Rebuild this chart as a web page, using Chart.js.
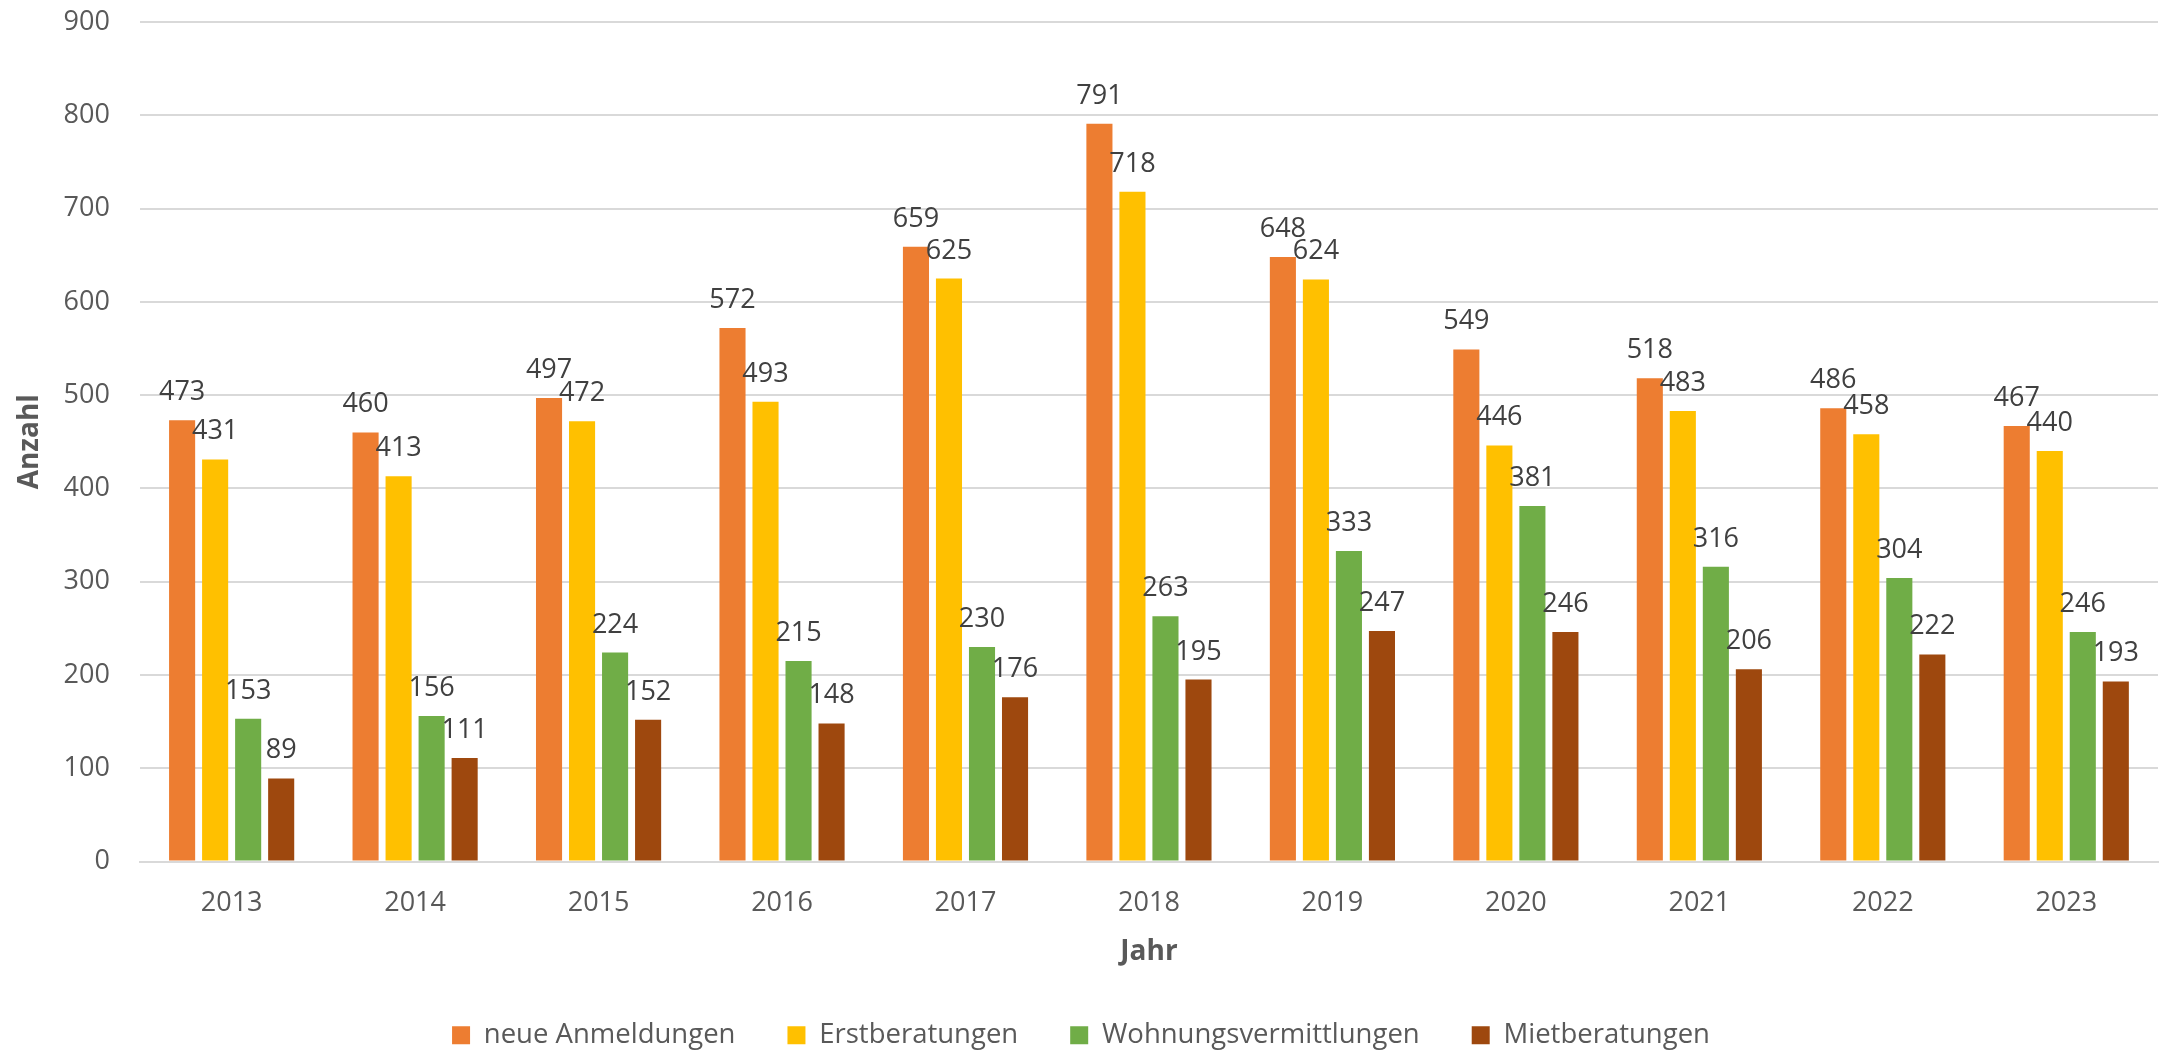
<!DOCTYPE html>
<html>
<head>
<meta charset="utf-8">
<script src="https://cdn.jsdelivr.net/npm/chart.js@4/dist/chart.umd.min.js"></script>
<style>
  html, body { margin: 0; padding: 0; background: #fff; }
  #wrap { width: 2165px; height: 1050px; }
</style>
</head>
<body>
<div id="wrap"><canvas id="chart" width="2165" height="1050"></canvas></div>
<script>
// Werte
const years = ['2013', '2014', '2015', '2016', '2017', '2018', '2019', '2020', '2021', '2022', '2023'];
const neueAnmeldungen = [473, 460, 497, 572, 659, 791, 648, 549, 518, 486, 467];
const erstberatungen = [431, 413, 472, 493, 625, 718, 624, 446, 483, 458, 440];
const wohnungsvermittlungen = [153, 156, 224, 215, 230, 263, 333, 381, 316, 304, 246];
const mietberatungen = [89, 111, 152, 148, 176, 195, 247, 246, 206, 222, 193];
const yTicks = [0, 100, 200, 300, 400, 500, 600, 700, 800, 900];

const FONT = '"Open Sans", "Noto Sans", sans-serif';

// Datenbeschriftungen über jedem Balken
const valueLabels = {
    id: 'valueLabels',
    afterDatasetsDraw(chart) {
        const ctx = chart.ctx;
        ctx.save();
        ctx.font = '27px ' + FONT;
        ctx.fillStyle = '#404040';
        ctx.textAlign = 'center';
        ctx.textBaseline = 'alphabetic';
        chart.data.datasets.forEach((ds, i) => {
            chart.getDatasetMeta(i).data.forEach((bar, j) => {
                ctx.fillText(String(ds.data[j]), bar.x, bar.y - 20);
            });
        });
        ctx.restore();
    }
};

function makeSet(label, data, color) {
    return {
        label: label,
        data: data,
        backgroundColor: color,
        borderWidth: 0,
        categoryPercentage: 0.72,
        barPercentage: 0.79
    };
}

new Chart(document.getElementById('chart').getContext('2d'), {
    type: 'bar',
    data: {
        labels: years,
        datasets: [
            makeSet('neue Anmeldungen', neueAnmeldungen, '#ED7D31'),
            makeSet('Erstberatungen', erstberatungen, '#FFC000'),
            makeSet('Wohnungsvermittlungen', wohnungsvermittlungen, '#70AD47'),
            makeSet('Mietberatungen', mietberatungen, '#9E480E')
        ]
    },
    options: {
        responsive: false,
        animation: false,
        devicePixelRatio: 1,
        layout: { padding: { top: 22, right: 7, bottom: -9, left: 4 } },
        plugins: {
            tooltip: { enabled: false },
            legend: {
                position: 'bottom',
                labels: {
                    boxWidth: 18,
                    boxHeight: 18,
                    padding: 52,
                    color: '#595959',
                    font: { family: FONT, size: 27.5 }
                }
            }
        },
        scales: {
            x: {
                grid: { display: false, drawTicks: false },
                border: { color: '#D9D9D9', width: 2 },
                ticks: { color: '#595959', padding: 26, font: { family: FONT, size: 27 } },
                title: {
                    display: true,
                    text: 'Jahr',
                    color: '#595959',
                    padding: { top: -11, bottom: 1 },
                    font: { family: FONT, size: 28, weight: 'bold' }
                }
            },
            y: {
                min: 0,
                max: 900,
                afterBuildTicks(axis) {
                    axis.ticks = yTicks.map(v => ({ value: v }));
                },
                // tick padding should not push the plot area down
                afterFit(axis) {
                    axis.paddingTop = 0;
                },
                grid: { color: '#D9D9D9', lineWidth: 2, drawTicks: false },
                border: { display: false },
                ticks: { color: '#595959', padding: 30, font: { family: FONT, size: 27 } },
                title: {
                    display: true,
                    text: 'Anzahl',
                    color: '#595959',
                    padding: { top: 9, bottom: -13 },
                    font: { family: FONT, size: 28, weight: 'bold' }
                }
            }
        }
    },
    plugins: [valueLabels]
});
</script>
</body>
</html>
